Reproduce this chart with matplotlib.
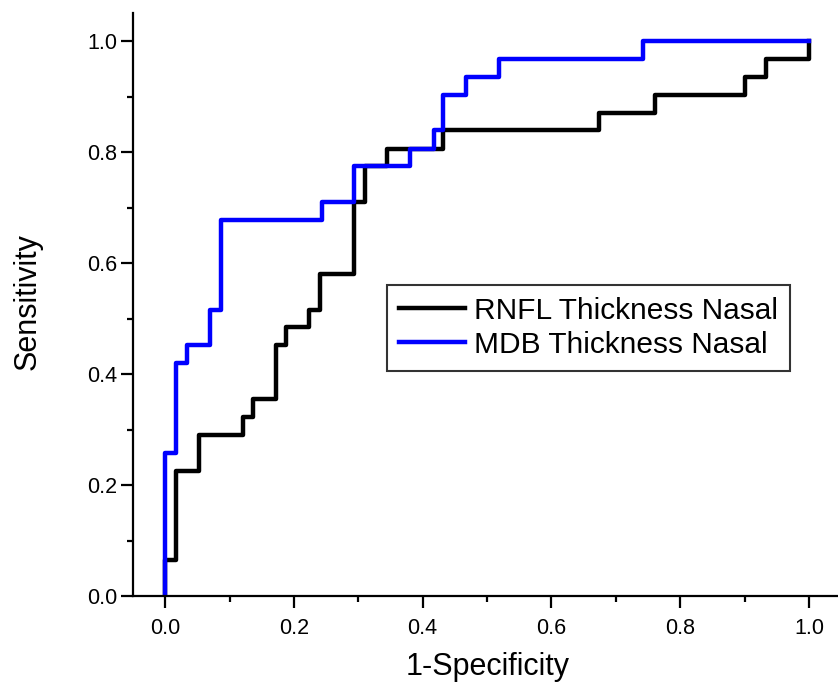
import numpy as np
import matplotlib
matplotlib.use('Agg')
import matplotlib.pyplot as plt
from matplotlib.ticker import MultipleLocator

plt.rcParams['font.family'] = ['Liberation Sans', 'DejaVu Sans']

# ROC step points (1-specificity, sensitivity)
rnfl_fpr = [0.0, 0.0, 0.017, 0.052, 0.121, 0.137, 0.172, 0.188, 0.224, 0.241,
            0.294, 0.311, 0.344, 0.432, 0.674, 0.761, 0.900, 0.934, 1.0]
rnfl_tpr = [0.0, 0.0645, 0.226, 0.290, 0.323, 0.355, 0.452, 0.484, 0.516, 0.581,
            0.710, 0.774, 0.806, 0.839, 0.871, 0.903, 0.935, 0.968, 1.0]

mdb_fpr = [0.0, 0.0, 0.017, 0.034, 0.069, 0.087, 0.243, 0.294, 0.380, 0.417,
           0.432, 0.468, 0.519, 0.743, 1.0]
mdb_tpr = [0.0, 0.258, 0.419, 0.452, 0.516, 0.677, 0.710, 0.774, 0.806, 0.839,
           0.903, 0.935, 0.968, 1.0, 1.0]

labels = ['RNFL Thickness Nasal', 'MDB Thickness Nasal']

fig = plt.figure(figsize=(8.38, 6.88), dpi=100)
ax = fig.add_axes([0.1587, 0.1337, 0.845, 0.847])

ax.step(rnfl_fpr, rnfl_tpr, where='post', color='black', lw=3.2, label=labels[0])
ax.step(mdb_fpr, mdb_tpr, where='post', color='#0000ff', lw=3.2, label=labels[1])

ax.set_xlim(-0.05, 1.05)
ax.set_ylim(0.0, 1.05)
ax.spines['top'].set_visible(False)
ax.spines['right'].set_visible(False)
for s in ['left', 'bottom']:
    ax.spines[s].set_linewidth(1.6)

ax.xaxis.set_major_locator(MultipleLocator(0.2))
ax.xaxis.set_minor_locator(MultipleLocator(0.1))
ax.yaxis.set_major_locator(MultipleLocator(0.2))
ax.yaxis.set_minor_locator(MultipleLocator(0.1))
ax.tick_params(which='major', direction='out', length=8.5, width=1.6, labelsize=15.5)
ax.tick_params(which='minor', direction='out', length=4.5, width=1.6)
ax.tick_params(axis='x', which='major', pad=7)
ax.tick_params(axis='y', which='major', pad=3)
ax.xaxis.set_major_formatter(plt.FormatStrFormatter('%.1f'))
ax.yaxis.set_major_formatter(plt.FormatStrFormatter('%.1f'))

fig.text(488 / 838, 1 - 675 / 688, '1-Specificity', fontsize=22, ha='center', va='baseline')
fig.text(28 / 838, 1 - 302 / 688, 'Sensitivity', fontsize=22, ha='center', va='center', rotation=90)

leg = ax.legend(loc='upper left', bbox_to_anchor=(387 / 838, 1 - 285 / 688),
                bbox_transform=fig.transFigure, fontsize=21.5, frameon=True,
                fancybox=False, edgecolor='black', handlelength=2.2,
                handletextpad=0.3, borderpad=0.4, labelspacing=0.2,
                borderaxespad=0)
leg.get_frame().set_linewidth(1.5)

fig.savefig('out.png', dpi=100)
